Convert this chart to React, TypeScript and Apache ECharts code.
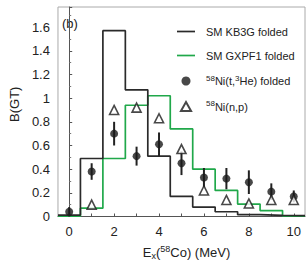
import React, { useEffect, useRef } from "react";
import * as echarts from "echarts";

const energies = [0, 1, 2, 3, 4, 5, 6, 7, 8, 9, 10];
const kb3g = [0.012, 0.49, 1.57, 1.07, 0.51, 0.17, 0.08, 0.04, 0.015, 0.01, 0.008];
const gxpf1 = [0.003, 0.07, 0.49, 0.94, 1.02, 0.74, 0.4, 0.22, 0.105, 0.05, 0.003];
const tHe3 = [0.04, 0.38, 0.7, 0.51, 0.61, 0.45, 0.33, 0.32, 0.29, 0.21, 0.17];
const tHe3Err = [0.04, 0.07, 0.1, 0.08, 0.1, 0.1, 0.08, 0.09, 0.1, 0.07, 0.05];
const npEnergies = [1, 2, 3, 4, 5, 6, 7, 8, 9, 10];
const np = [0.1, 0.9, 0.92, 0.83, 0.57, 0.22, 0.14, 0.11, 0.14, 0.14];
const xTickLabels = [0, 2, 4, 6, 8, 10];

const N_KB3G = "SM KB3G folded";
const N_GX = "SM GXPF1 folded";
const N_THE = "58Ni(t,3He) folded";
const N_NP = "58Ni(n,p)";

const GREEN = "#20a84a";
const FONT = "Liberation Sans";
const LINE_ICON = "path://M0,0 L18,0 L18,1.7 L0,1.7 Z";
const TRI_ICON = "path://M4.5,0 L9,8 L0,8 Z";
const DOT_ICON = "path://M4,0 A4,4 0 1 1 3.99,0 Z";

function stepData(vals: number[]) {
  const pts: number[][] = energies.map((e, i) => [e - 0.5, vals[i]]);
  const last = energies.length - 1;
  pts.push([energies[last] + 0.5, vals[last]]);
  return pts;
}

export default function App() {
  const ref = useRef<HTMLDivElement>(null);
  useEffect(() => {
    if (!ref.current) return;
    const chart = echarts.init(ref.current, null, { renderer: "svg" });
    const rich = {
      sup: { fontSize: 8, padding: [0, 0, 6, 0], fontFamily: FONT, color: "#222" },
      n: { fontSize: 11, fontFamily: FONT, color: "#222" },
    };
    chart.setOption({
      animation: false,
      textStyle: { fontFamily: FONT },
      grid: { left: 52, right: 1, top: 7, bottom: 41, show: true, borderColor: "#aaa", borderWidth: 1 },
      graphic: [
        {
          type: "text",
          x: 62,
          y: 23,
          style: { text: "(b)", fontSize: 13, fontFamily: FONT, fill: "#222", verticalAlign: "middle", align: "left" },
        },
      ],
      legend: {
        orient: "vertical",
        left: 172,
        top: 21,
        itemWidth: 18,
        itemHeight: 9,
        itemGap: 13,
        data: [
          { name: N_KB3G, icon: LINE_ICON },
          { name: N_GX, icon: LINE_ICON },
          { name: N_THE, icon: DOT_ICON },
          { name: N_NP, icon: TRI_ICON },
        ],
        textStyle: { fontSize: 11, fontFamily: FONT, color: "#222", padding: [0, 0, 0, 6], rich },
        formatter: (name: string) => {
          if (name === N_THE) return "{sup|58}{n|Ni(t,}{sup|3}{n|He) folded}";
          if (name === N_NP) return "{sup|58}{n|Ni(n,p)}";
          return "{n|" + name + "}";
        },
      },
      xAxis: {
        type: "value",
        min: -0.5,
        max: 10.5,
        name: "E{sub|x}({sup|58}Co) (MeV)",
        nameLocation: "middle",
        nameGap: 28,
        nameTextStyle: {
          fontSize: 13,
          fontFamily: FONT,
          color: "#222",
          padding: [0, 0, 0, 10],
          rich: {
            sup: { fontSize: 9, padding: [0, 0, 7, 0], fontFamily: FONT, color: "#222" },
            sub: { fontSize: 9, padding: [6, 0, 0, 0], fontFamily: FONT, color: "#222" },
          },
        },
        axisLine: { lineStyle: { color: "#555", width: 1 } },
        axisTick: { show: true, inside: true, length: 3, customValues: energies, lineStyle: { color: "#555" } },
        axisLabel: { customValues: xTickLabels, fontSize: 13, color: "#222", margin: 8, fontFamily: FONT },
        splitLine: { show: false },
      },
      yAxis: {
        type: "value",
        min: 0,
        max: 1.77,
        interval: 0.2,
        name: "B(GT)",
        nameLocation: "middle",
        nameGap: 33,
        nameTextStyle: { fontSize: 13, fontFamily: FONT, color: "#222", padding: [0, 0, 0, 15] },
        axisLine: { show: true, lineStyle: { color: "#555", width: 1 } },
        axisTick: { show: true, inside: true, length: 3, lineStyle: { color: "#555" } },
        minorTick: { show: true, splitNumber: 2, length: 2, lineStyle: { color: "#777" } },
        axisLabel: {
          fontSize: 13,
          color: "#222",
          margin: 8,
          fontFamily: FONT,
          showMaxLabel: false,
          formatter: (v: number) => String(+v.toFixed(1)),
        },
        splitLine: { show: false },
      },
      series: [
        {
          name: N_KB3G,
          type: "line",
          step: "end",
          symbol: "none",
          data: stepData(kb3g),
          lineStyle: { color: "#2a2a2a", width: 1.7 },
          itemStyle: { color: "#2a2a2a" },
          z: 3,
        },
        {
          name: N_GX,
          type: "line",
          step: "end",
          symbol: "none",
          data: stepData(gxpf1),
          lineStyle: { color: GREEN, width: 1.7 },
          itemStyle: { color: GREEN },
          z: 2,
        },
        {
          name: "err",
          type: "custom",
          data: energies.map((e, i) => [e, tHe3[i], tHe3Err[i]]),
          renderItem: (params: any, api: any) => {
            const x = api.value(0);
            const y = api.value(1);
            const e = api.value(2);
            const a = api.coord([x, y + e]);
            const b = api.coord([x, y - e]);
            return {
              type: "line",
              shape: { x1: a[0], y1: a[1], x2: b[0], y2: b[1] },
              style: { stroke: "#222", lineWidth: 2 },
            };
          },
          z: 4,
        },
        {
          name: N_THE,
          type: "scatter",
          symbol: "circle",
          symbolSize: 8,
          data: energies.map((e, i) => [e, tHe3[i]]),
          itemStyle: { color: "#1a1a1a" },
          z: 5,
        },
        {
          name: N_NP,
          type: "scatter",
          symbol: "triangle",
          symbolSize: 9,
          data: npEnergies.map((e, i) => [e, np[i]]),
          itemStyle: { color: "#ffffff", borderColor: "#1a1a1a", borderWidth: 1.6 },
          z: 6,
        },
      ],
    });
    return () => chart.dispose();
  }, []);
  return <div ref={ref} style={{ width: 306, height: 265, position: "absolute", left: 0, top: 0 }} />;
}
